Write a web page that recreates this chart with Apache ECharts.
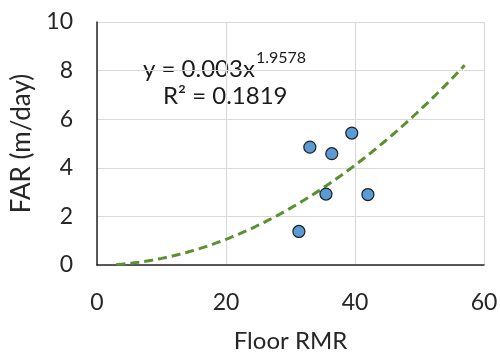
<!DOCTYPE html>
<html>
<head>
<meta charset="utf-8">
<script src="https://cdn.jsdelivr.net/npm/echarts@6/dist/echarts.min.js"></script>
<style>
  html, body { margin: 0; padding: 0; background: #fff; }
  #chart { width: 500px; height: 354px; }
</style>
</head>
<body>
<div id="chart"></div>
<script>
// Measured floor RMR against FAR
const floorRMR = [31.3, 33.0, 35.5, 36.4, 39.5, 42.0];
const farValues = [1.38, 4.85, 2.92, 4.58, 5.43, 2.90];

// Power trendline y = a * x^b, as given in the equation label
const trendCoef = 0.003;
const trendExp = 1.9578;
const trendR2 = 0.1819;
const trendStart = 3;
const trendEnd = 57;

const xTicks = [0, 20, 40, 60];
const yTicks = [0, 2, 4, 6, 8, 10];

const points = floorRMR.map((x, i) => [x, farValues[i]]);
const trend = [];
for (let x = trendStart; x <= trendEnd + 1e-9; x += 0.5) {
  trend.push([x, trendCoef * Math.pow(x, trendExp)]);
}

const font = 'Lato, "Open Sans", sans-serif';
const eqMain = 'y = ' + trendCoef + 'x';
const eqFont = '24px ' + font;

// width of the base part of the equation, so the exponent sits right after it
const measureCtx = document.createElement('canvas').getContext('2d');
measureCtx.font = eqFont;
const eqMainWidth = measureCtx.measureText(eqMain).width;
const eqLeft = 143;

const chart = echarts.init(document.getElementById('chart'));
chart.setOption({
  animation: false,
  backgroundColor: '#ffffff',
  grid: { left: 97, right: 16, top: 22, bottom: 89, outerBoundsMode: 'none', containLabel: false },
  xAxis: {
    type: 'value', min: xTicks[0], max: xTicks[xTicks.length - 1], interval: 20,
    name: 'Floor RMR', nameLocation: 'middle', nameGap: 64,
    nameTextStyle: { fontFamily: font, fontSize: 24, color: '#262626' },
    axisLine: { show: true, onZero: false, lineStyle: { color: '#262626', width: 1.5 } },
    axisTick: { show: false },
    axisLabel: { fontFamily: font, fontSize: 23, color: '#262626', margin: 26 },
    splitLine: { show: true, lineStyle: { color: '#d9d9d9', width: 1.2 } }
  },
  yAxis: {
    type: 'value', min: yTicks[0], max: yTicks[yTicks.length - 1], interval: 2,
    name: 'FAR (m/day)', nameLocation: 'middle', nameGap: 62,
    nameTextStyle: { fontFamily: font, fontSize: 26, color: '#262626' },
    axisLine: { show: true, onZero: false, lineStyle: { color: '#262626', width: 1.5 } },
    axisTick: { show: false },
    axisLabel: { fontFamily: font, fontSize: 23, color: '#262626', margin: 24 },
    splitLine: { show: true, lineStyle: { color: '#d9d9d9', width: 1.2 } }
  },
  series: [
    {
      type: 'line', data: trend, showSymbol: false, smooth: false, z: 2,
      lineStyle: { color: '#5b8f2f', width: 3, type: [9, 5] }
    },
    {
      type: 'scatter', data: points, symbol: 'circle', symbolSize: 12, z: 3,
      itemStyle: { color: '#5b9bd5', borderColor: '#1f1f1f', borderWidth: 1.2, opacity: 1 }
    }
  ],
  graphic: [
    {
      type: 'text', left: eqLeft, top: 57,
      style: { text: eqMain, font: eqFont, fill: '#1a1a1a' }
    },
    {
      type: 'text', left: eqLeft + eqMainWidth + 1, top: 50,
      style: { text: String(trendExp), font: '16px ' + font, fill: '#1a1a1a' }
    },
    {
      type: 'text', left: 163, top: 84,
      style: { text: 'R\u00b2 = ' + trendR2, font: eqFont, fill: '#1a1a1a' }
    }
  ]
});
</script>
</body>
</html>
